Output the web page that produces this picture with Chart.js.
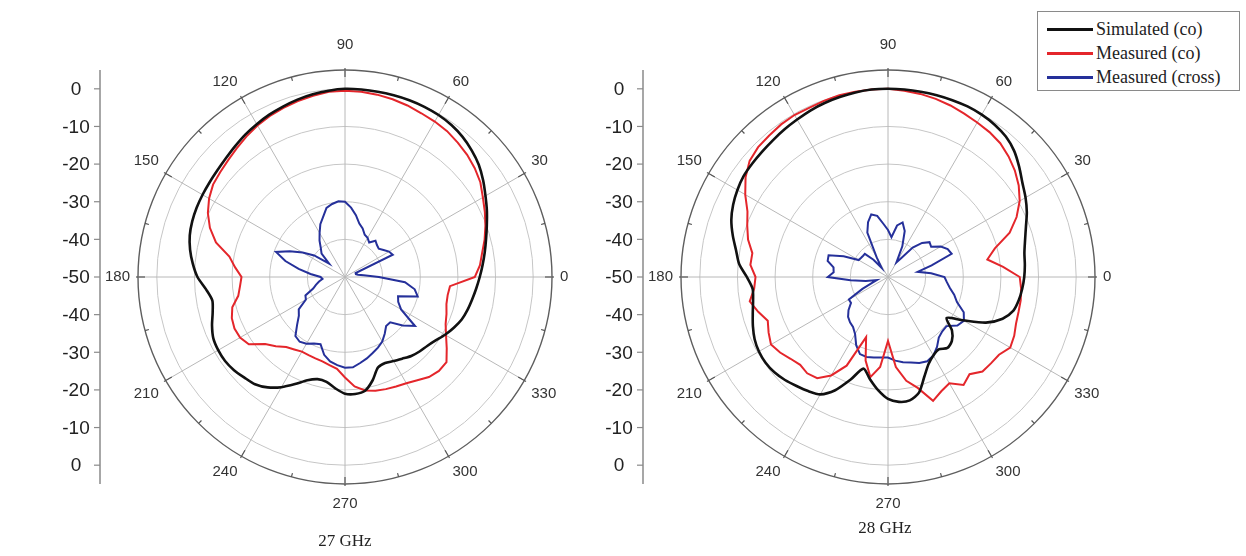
<!DOCTYPE html>
<html>
<head>
<meta charset="utf-8">
<script src="https://cdn.jsdelivr.net/npm/chart.js@4.4.1/dist/chart.umd.min.js"></script>
<style>
  body { margin: 0; background: #fff; width: 1246px; height: 556px; overflow: hidden; position: relative; }
  canvas { position: absolute; top: 0; }
  #c27 { left: 0; }
  #c28 { left: 543px; }
  .cap { position: absolute; font-family: 'Liberation Serif', serif; font-size: 17px; color: #222; transform: translate(-50%, -50%); white-space: nowrap; }
  #legend { position: absolute; left: 1037px; top: 11px; width: 203px; height: 80px; border: 1px solid #8a8a8a; background: #fff; box-sizing: border-box; padding-top: 5px; }
  .row { height: 24px; display: flex; align-items: center; font-family: 'Liberation Serif', serif; font-size: 18px; color: #222; }
  .row i { display: inline-block; width: 46px; height: 3px; margin: 0 3px 0 9px; }
</style>
</head>
<body>
<canvas id="c27" width="640" height="556"></canvas>
<canvas id="c28" width="703" height="556"></canvas>
<div class="cap" style="left:345px;top:541px">27 GHz</div>
<div class="cap" style="left:885px;top:528px">28 GHz</div>
<div id="legend"></div>
<script>
// angles in degrees, 0 at the right, counter-clockwise
const angles = [0, 5, 10, 15, 20, 25, 30, 35, 40, 45, 50, 55, 60, 65, 70, 75, 80, 85,
  90, 95, 100, 105, 110, 115, 120, 125, 130, 135, 140, 145, 150, 155, 160, 165, 170, 175,
  180, 185, 190, 195, 200, 205, 210, 215, 220, 225, 230, 235, 240, 245, 250, 255, 260, 265,
  270, 275, 280, 285, 290, 295, 300, 305, 310, 315, 320, 325, 330, 335, 340, 345, 350, 355];
const angleLabels = [0, 30, 60, 90, 120, 150, 180, 210, 240, 270, 300, 330];
const ringTicks = [-50, -40, -30, -20, -10, 0, 5];
const sideTicks = [0, -10, -20, -30, -40, -50];

const seriesNames = ['Simulated (co)', 'Measured (co)', 'Measured (cross)'];
const seriesColors = ['#111111', '#e4262b', '#25309a'];

// 27 GHz (dB)
const sim27 = [-14.2, -13.3, -12.3, -11.2, -9.9, -8.4, -6.9, -5.2, -3.6, -2.4,
  -1.4, -0.7, -0.3, -0.1, 0, 0, 0, 0, 0, -0.3,
  -0.7, -1.2, -1.8, -2.4, -3.1, -3.8, -4.6, -5.3, -5.8, -6.1,
  -6.3, -6.5, -6.8, -7.3, -8.2, -9.4, -10.8, -12.9, -14.2, -13.6,
  -12.4, -11.4, -11.1, -11.1, -11.5, -12.2, -12.8, -14.2, -16.2, -18.6,
  -20.8, -21.9, -21.7, -20.3, -19.0, -18.8, -19.3, -21.6, -24.4, -24.8,
  -24.2, -23.5, -22.6, -22.0, -21.5, -20.6, -19.3, -18.1, -17.0, -16.3,
  -15.7, -15.0];
const meas27 = [-15.5, -14.0, -13.0, -11.6, -10.3, -9.0, -7.7, -6.1, -5.0, -4.1,
  -3.4, -2.7, -2.3, -2.0, -1.5, -1.1, -0.8, -0.6, -0.5, -0.6,
  -1.1, -1.6, -2.2, -2.8, -3.5, -4.4, -5.3, -6.1, -6.7, -7.2,
  -8.3, -9.8, -11.8, -14.5, -18.8, -20.7, -22.5, -22.0, -21.2, -19.0,
  -18.0, -17.6, -17.8, -18.8, -22.3, -24.0, -25.7, -26.5, -27.1, -27.1,
  -27.0, -26.8, -26.2, -25.5, -23.3, -20.8, -19.4, -18.7, -18.3, -17.9,
  -17.4, -16.5, -15.3, -14.7, -14.8, -17.0, -19.0, -20.5, -21.3, -22.1,
  -22.3, -22.0];
const cross27 = [-41, -45, -46.5, -47, -47, -36, -36.5, -37.5, -38.3, -38,
  -37.4, -38.8, -38, -37.6, -36.3, -35.3, -33.3, -31.5, -30, -29.8,
  -30.3, -31, -33, -34.5, -36.5, -38.2, -40, -41.2, -44.5, -40,
  -37, -33.8, -30.5, -33.6, -37.5, -40.8, -43.5, -44, -43, -42,
  -41, -38.4, -38, -35, -34, -32, -29.5, -29, -29.5, -30.5,
  -31, -28.6, -27.2, -26.5, -25.9, -25.9, -26.8, -27.6, -28.5, -29.3,
  -30.2, -31.6, -33, -33, -30, -27.3, -32.8, -34.4, -35, -30,
  -31.2, -34];

// 28 GHz (dB)
const sim28 = [-13.8, -13.5, -13.2, -12.3, -11.0, -9.3, -7.8, -6.4, -4.5, -2.6,
  -1.3, -0.6, -0.2, 0, 0, 0, 0, 0, 0, 0,
  -0.2, -0.5, -0.8, -1.2, -1.7, -2.1, -2.5, -2.8, -3.0, -3.2,
  -3.8, -4.6, -5.7, -7.3, -9.0, -10.3, -12.5, -13.9, -13.6, -12.8,
  -11.8, -10.9, -10.4, -10.3, -10.6, -11.3, -12.2, -13.0, -14.0, -16.8,
  -21.0, -24.8, -22.4, -19.8, -17.6, -16.7, -16.7, -18.2, -21.8, -24.5,
  -25.9, -26.5, -25.4, -26.0, -27.8, -31.0, -27.0, -21.3, -17.6, -15.5,
  -14.7, -14.2];
const meas28 = [-15.0, -19.3, -23.2, -20.6, -15.6, -12.3, -9.6, -7.6, -6.0, -4.7,
  -3.6, -3.0, -2.6, -2.1, -1.5, -1.0, -0.6, -0.3, 0, 0,
  0, 0, -0.2, -0.4, -0.3, -0.5, -0.9, -1.2, -2.0, -3.8,
  -6.2, -8.8, -10.2, -11.5, -13.4, -13.3, -14.8, -14.3, -12.7, -14.3,
  -16.0, -15.0, -14.1, -15.0, -16.2, -17.0, -16.6, -17.2, -19.8, -24.0,
  -33.0, -27.0, -23.0, -26.0, -33.0, -26.0, -22.0, -19.5, -15.0, -16.5,
  -17.4, -15.0, -16.3, -14.5, -14.3, -14.0, -12.5, -13.0, -13.8, -14.1,
  -14.2, -14.5];
const cross28 = [-35, -38.5, -42, -38, -32, -32.5, -33.8, -36, -35.6, -37.2,
  -39.8, -43.8, -45.5, -41, -37, -35, -36.1, -39.4, -37.5, -35.8,
  -33.5, -32.8, -34.5, -37, -44, -47, -44, -41.3, -41.3, -41.2,
  -41, -37, -33.2, -33.4, -35.3, -35.5, -34, -40, -44, -46.9,
  -45.5, -42.5, -38, -38, -36.3, -35, -34.3, -33.8, -32.5, -30,
  -28.2, -28, -28.3, -28.5, -28.6, -27.7, -27, -26.5, -25.7, -25.3,
  -25.9, -27.3, -29, -29.6, -29.7, -27.5, -26.7, -27.8, -30.5, -31.8,
  -33.3, -34.3];

// radar goes clockwise from its start angle, so walk the angles backwards
const order = angles.map(a => (360 - a) % 360);
const byOrder = s => order.map(a => s[angles.indexOf(a)]);

const polarDecor = {
  id: 'polarDecor',
  afterDraw(chart) {
    const r = chart.scales.r;
    const ctx = chart.ctx;
    const cx = r.xCenter, cy = r.yCenter;
    const outer = r.getDistanceFromCenterForValue(ringTicks[ringTicks.length - 1]);
    ctx.save();
    // ticks on the outer ring
    ctx.strokeStyle = '#555';
    ctx.lineWidth = 1.2;
    order.forEach((a, i) => {
      if (a % 15 !== 0) return;
      const len = a % 30 === 0 ? 7 : 4;
      const p1 = r.getPointPosition(i, outer + (a % 30 === 0 ? 2 : 0));
      const p2 = r.getPointPosition(i, outer - len);
      ctx.beginPath();
      ctx.moveTo(p1.x, p1.y);
      ctx.lineTo(p2.x, p2.y);
      ctx.stroke();
    });
    // side dB axis
    const ax = cx - outer - 38;
    ctx.strokeStyle = '#8a8a8a';
    ctx.lineWidth = 1.5;
    ctx.beginPath();
    ctx.moveTo(ax, cy - outer);
    ctx.lineTo(ax, cy + outer);
    ctx.stroke();
    ctx.fillStyle = '#222';
    ctx.font = '19px "Liberation Sans", Arial, sans-serif';
    ctx.textAlign = 'center';
    ctx.textBaseline = 'middle';
    ctx.lineWidth = 1.2;
    sideTicks.forEach(v => {
      const d = r.getDistanceFromCenterForValue(v);
      const ys = d > 0.5 ? [cy - d, cy + d] : [cy];
      ys.forEach(y => {
        ctx.beginPath();
        ctx.moveTo(ax - 6, y);
        ctx.lineTo(ax, y);
        ctx.stroke();
        ctx.fillText(String(v), ax - 24, y + 1);
      });
    });
    ctx.restore();
  }
};

function makeChart(id, sim, meas, cross, padRight) {
  const series = [sim, meas, cross];
  return new Chart(document.getElementById(id), {
    type: 'radar',
    data: {
      labels: order,
      datasets: series.map((s, k) => ({
        label: seriesNames[k],
        data: byOrder(s),
        borderColor: seriesColors[k],
        borderWidth: k === 0 ? 2.6 : 2,
        fill: false,
        tension: k === 0 ? 0.25 : 0,
        pointRadius: 0
      }))
    },
    options: {
      responsive: false,
      animation: false,
      layout: { padding: { left: 65, right: padRight, top: 34, bottom: 40 } },
      plugins: { legend: { display: false }, tooltip: { enabled: false } },
      scales: {
        r: {
          min: -50, max: 5,
          startAngle: 90,
          ticks: { display: false, stepSize: 10 },
          afterBuildTicks: s => { s.ticks = ringTicks.map(v => ({ value: v })); },
          grid: {
            circular: true,
            color: c => c.tick.value === 5 ? '#5e5e5e' : (c.tick.value === -50 ? 'rgba(0,0,0,0)' : '#c6c6c6'),
            lineWidth: c => c.tick.value === 5 ? 1.4 : 1
          },
          angleLines: {
            color: '#b8b8b8',
            lineWidth: c => (c.label !== '' ? 1 : 0)
          },
          pointLabels: {
            callback: v => angleLabels.includes(v) ? String(v) : '',
            padding: c => c.label === '90' ? 16 : (c.label === '270' ? 11 : 8),
            color: '#333',
            font: { family: "'Liberation Sans', Arial, sans-serif", size: 15, lineHeight: 1.2 }
          }
        }
      }
    },
    plugins: [polarDecor]
  });
}

makeChart('c27', sim27, meas27, cross27, 15);
makeChart('c28', sim28, meas28, cross28, 78);

const legend = document.getElementById('legend');
seriesNames.forEach((name, k) => {
  const row = document.createElement('div');
  row.className = 'row';
  row.innerHTML = '<i style="background:' + seriesColors[k] + '"></i><span>' + name + '</span>';
  legend.appendChild(row);
});
</script>
</body>
</html>
